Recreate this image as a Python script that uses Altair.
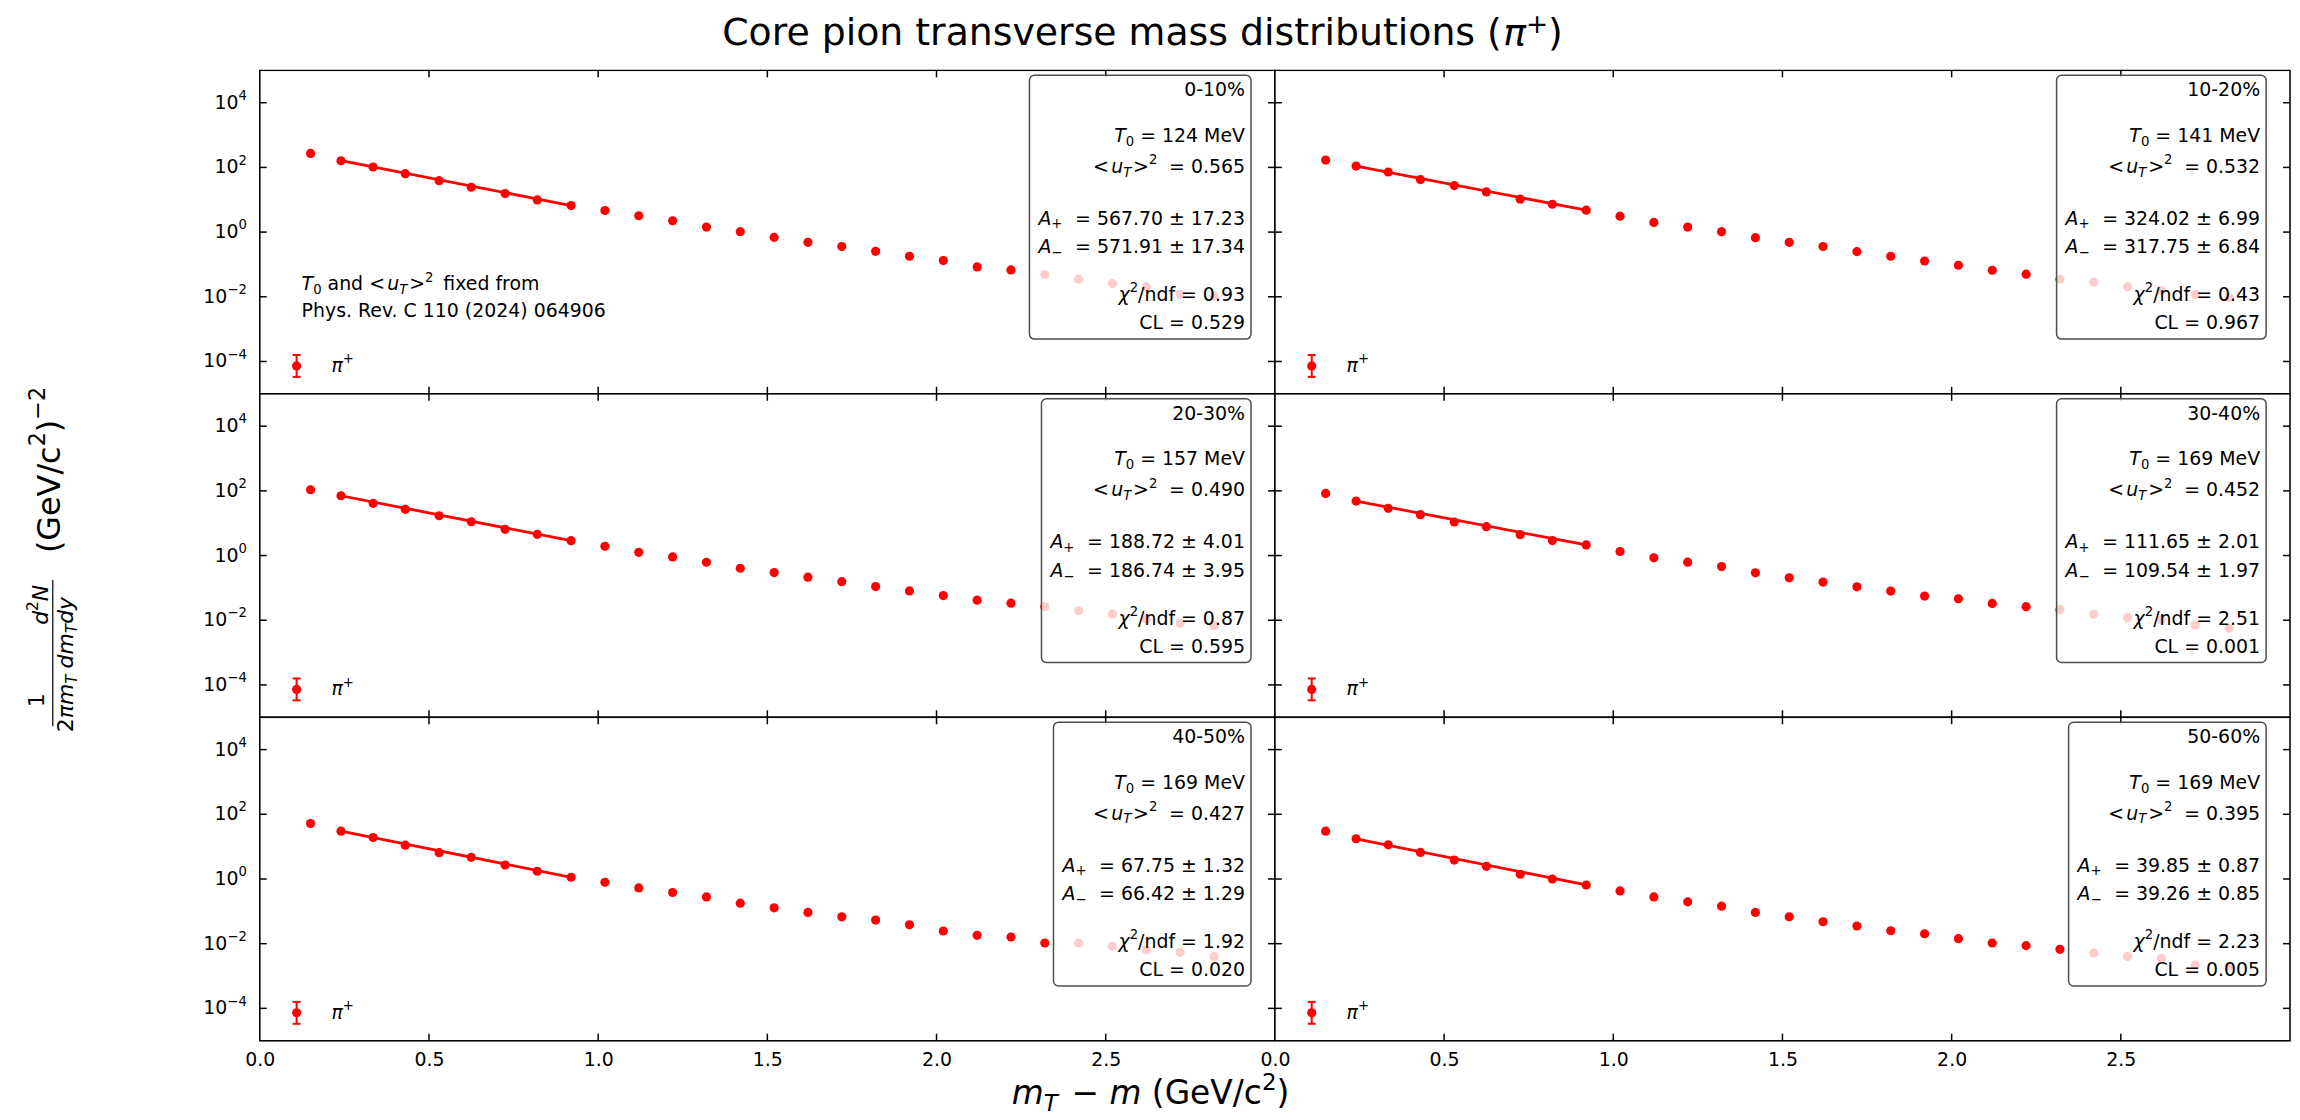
import altair as alt
import pandas as pd
import math

# ---------------- data ----------------
MT = [0.15, 0.24, 0.335, 0.43, 0.53, 0.625, 0.725, 0.82, 0.92, 1.02, 1.12, 1.22, 1.32, 1.42,
      1.52, 1.62, 1.72, 1.82, 1.92, 2.02, 2.12, 2.22, 2.32, 2.42, 2.52, 2.62, 2.72, 2.82]

Y_0_10 = [270, 161, 103, 64, 39, 24.3, 15.5, 9.9, 6.6, 4.66, 3.2, 2.24, 1.43, 1.03, 0.687, 0.482,
          0.356, 0.255, 0.179, 0.132, 0.0838, 0.0678, 0.0489, 0.0351, 0.0258, 0.0209, 0.0119, 0.0105]
Y_10_20 = [169, 110, 72, 41.9, 27.4, 17.5, 10.4, 7.27, 4.75, 3.1, 1.99, 1.43, 1.03, 0.673, 0.482,
           0.356, 0.249, 0.179, 0.128, 0.0945, 0.0663, 0.0499, 0.0351, 0.0283, 0.0203, 0.0157, 0.0119, 0.0093]
Y_20_30 = [108, 70.6, 41, 26.9, 17, 11.1, 6.48, 4.54, 2.89, 1.94, 1.26, 0.906, 0.621, 0.405, 0.297,
           0.214, 0.156, 0.110, 0.0807, 0.0578, 0.0417, 0.0337, 0.0259, 0.0195, 0.0154, 0.0110, 0.0081, 0.0069]
Y_30_40 = [83.2, 48.3, 28.8, 18.3, 10.9, 7.8, 4.43, 2.90, 2.13, 1.33, 0.85, 0.625, 0.457, 0.292, 0.205,
           0.151, 0.108, 0.0797, 0.0559, 0.0462, 0.0331, 0.0262, 0.0212, 0.0152, 0.0120, 0.0104, 0.0071, 0.0056]
Y_40_50 = [51.8, 30, 19.2, 11.1, 6.49, 4.66, 2.70, 1.73, 1.13, 0.791, 0.528, 0.382, 0.279, 0.179, 0.128,
           0.0925, 0.0677, 0.0536, 0.0385, 0.0246, 0.0181, 0.0161, 0.0105, 0.0105, 0.0083, 0.0065, 0.0054, 0.0040]
Y_50_60 = [30, 17.5, 11.4, 6.63, 3.85, 2.46, 1.40, 1.0, 0.653, 0.428, 0.279, 0.196, 0.144, 0.0925, 0.0678,
           0.0475, 0.0351, 0.0251, 0.0203, 0.0143, 0.0105, 0.0087, 0.0067, 0.0051, 0.0040, 0.0035, 0.0022, 0.0020]
Y_ALL = [Y_0_10, Y_10_20, Y_20_30, Y_30_40, Y_40_50, Y_50_60]

FIT_X = [0.24, 0.92]
FIT_Y = [[161, 6.6], [110, 4.75], [70.6, 2.89], [48.3, 2.13], [30, 1.13], [17.5, 0.653]]

CENT = ["0-10%", "10-20%", "20-30%", "30-40%", "40-50%", "50-60%"]
T0 = ["124", "141", "157", "169", "169", "169"]
UT2 = ["0.565", "0.532", "0.490", "0.452", "0.427", "0.395"]
A_PLUS = ["567.70 ± 17.23", "324.02 ± 6.99", "188.72 ± 4.01", "111.65 ± 2.01", "67.75 ± 1.32", "39.85 ± 0.87"]
A_MINUS = ["571.91 ± 17.34", "317.75 ± 6.84", "186.74 ± 3.95", "109.54 ± 1.97", "66.42 ± 1.29", "39.26 ± 0.85"]
CHI2 = ["0.93", "0.43", "0.87", "2.51", "1.92", "2.23"]
CL = ["0.529", "0.967", "0.595", "0.001", "0.020", "0.005"]

X_LABELS = [0.0, 0.5, 1.0, 1.5, 2.0, 2.5]
X_TICKS = [0.5, 1.0, 1.5, 2.0, 2.5]
Y_TICKS = [1e4, 1e2, 1, 1e-2, 1e-4]
Y_TICK_EXP = ["4", "2", "0", "−2", "−4"]

# ---------------- layout ----------------
W_PX, H_PX = 1020, 325
XMAX = 3.0
LOG_TOP, LOG_BOT = 5.0, -5.0
FS = 19


def xd(px):
    return px / W_PX * XMAX


def yd(py):
    return 10 ** (LOG_TOP - py / H_PX * (LOG_TOP - LOG_BOT))


def ypx(v):
    return (LOG_TOP - math.log10(v)) / (LOG_TOP - LOG_BOT) * H_PX


EM = {' ': .318, 'a': .613, 'b': .635, 'c': .550, 'd': .635, 'e': .615, 'f': .352, 'g': .635, 'h': .634,
      'i': .278, 'j': .278, 'k': .579, 'l': .278, 'm': .974, 'n': .634, 'o': .612, 'p': .635, 'q': .635,
      'r': .411, 's': .521, 't': .392, 'u': .634, 'v': .592, 'w': .818, 'x': .592, 'y': .592, 'z': .525,
      'A': .684, 'C': .698, 'G': .775, 'L': .557, 'M': .863, 'N': .748, 'P': .603, 'R': .695, 'T': .611,
      'V': .684, '.': .318, ',': .318, '-': .361, '(': .390, ')': .390, '%': .950, '=': .838, '+': .838,
      '<': .838, '>': .838, '±': .838, '/': .337, '−': .838, 'π': .602, 'χ': .592}
for _d in '0123456789':
    EM[_d] = .636


def tw(text, size):
    return sum(EM.get(c, 0.6) for c in text) * size


KIND = {'n': (1.0, 0.0, False), 'i': (1.0, 0.0, True),
        'sub': (0.7, 0.30, False), 'subi': (0.7, 0.30, True),
        'sup': (0.7, -0.36, False), 'supi': (0.7, -0.36, True),
        'supl': (0.7, -0.26, False)}


def rich(segs, x, y, size, align='left', rotate=False):
    items, total = [], 0.0
    for s in segs:
        text, kind = s[0], s[1]
        pad = (s[2] if len(s) > 2 else 0.0) * size
        scale, off, it = KIND[kind]
        fs = size * scale
        lead = (len(text) - len(text.lstrip(' '))) * EM[' '] * fs
        trail = (len(text) - len(text.rstrip(' '))) * EM[' '] * fs
        core = text.strip(' ')
        w = tw(core, fs)
        items.append((core, fs, off * size, it, lead, w, trail + pad))
        total += lead + w + trail + pad
    start = {'left': 0.0, 'right': -total, 'center': -total / 2}[align]
    rows, pos = [], start
    for core, fs, off, it, lead, w, after in items:
        pos += lead
        if rotate:
            px, py = x + off, y - pos
        else:
            px, py = x + pos, y + off
        rows.append(dict(x=xd(px), y=yd(py), t=core, s=fs, it=it))
        pos += w + after
    return rows, total


def text_layers(rows, X, Y, angle=None):
    out = []
    for it in (False, True):
        sub = [r for r in rows if r['it'] == it]
        if not sub:
            continue
        kw = dict(align='left', baseline='middle', font='DejaVu Sans', color='black')
        if it:
            kw['fontStyle'] = 'italic'
        if angle is not None:
            kw['angle'] = angle
        out.append(alt.Chart(pd.DataFrame(sub)).mark_text(**kw).encode(
            x=X, y=Y, text='t:N', size=alt.Size('s:Q', scale=None)))
    return out


LINE_Y = [20, 66, 97, 149, 178, 226, 254]
TEXT_RIGHT = 990
BOX_RIGHT = 996


def panel(i):
    col, row = i % 2, i // 2
    xs = alt.Scale(domain=[0, XMAX], nice=False, zero=False)
    ys = alt.Scale(type='log', domain=[10 ** LOG_BOT, 10 ** LOG_TOP], nice=False)
    if row == 2:
        xaxis = alt.Axis(values=X_LABELS, format='.1f', ticks=False, domain=False, grid=False,
                         labelFontSize=FS, labelPadding=10, labelColor='black', labelFlush=False,
                         labelFont='DejaVu Sans', title=None)
    else:
        xaxis = None
    X = alt.X('x:Q', scale=xs, axis=xaxis)
    Y = alt.Y('y:Q', scale=ys, axis=None)

    layers = []
    one = pd.DataFrame({'a': [0]})
    # fit line + data
    layers.append(alt.Chart(pd.DataFrame({'x': FIT_X, 'y': FIT_Y[i]})).mark_line(
        color='#ff0000', strokeWidth=2.8).encode(x=X, y=Y))
    layers.append(alt.Chart(pd.DataFrame({'x': MT, 'y': Y_ALL[i]})).mark_circle(
        size=85, color='#ff0000', opacity=1).encode(x=X, y=Y))

    # frame + inward ticks
    layers.append(alt.Chart(one).mark_rect(fillOpacity=0, stroke='black', strokeWidth=1.5).encode(
        x=alt.value(0), x2=alt.value(W_PX), y=alt.value(0), y2=alt.value(H_PX)))
    xt = pd.DataFrame({'x': X_TICKS})
    yt = pd.DataFrame({'y': Y_TICKS})
    tk = dict(color='black', strokeWidth=1.5)
    layers.append(alt.Chart(xt).mark_rule(**tk).encode(x=X, y=alt.value(H_PX), y2=alt.value(H_PX - 7)))
    layers.append(alt.Chart(xt).mark_rule(**tk).encode(x=X, y=alt.value(0), y2=alt.value(7)))
    layers.append(alt.Chart(yt).mark_rule(**tk).encode(y=Y, x=alt.value(0), x2=alt.value(7)))
    layers.append(alt.Chart(yt).mark_rule(**tk).encode(y=Y, x=alt.value(W_PX - 7), x2=alt.value(W_PX)))

    rows = []
    # y tick labels (left column only)
    if col == 0:
        for v, e in zip(Y_TICKS, Y_TICK_EXP):
            r, _ = rich([('10', 'n'), (e, 'sup')], -13, ypx(v), FS, align='right')
            rows += r

    # info box
    lines = [
        [(CENT[i], 'n')],
        [('T', 'i'), ('0', 'sub'), (' = ' + T0[i] + ' MeV', 'n')],
        [('<', 'n', 0.12), ('u', 'i'), ('T', 'subi', 0.1), ('>', 'n'), ('2', 'sup', 0.3),
         (' = ' + UT2[i], 'n')],
        [('A', 'i'), ('+', 'sub', 0.35), (' = ' + A_PLUS[i], 'n')],
        [('A', 'i'), ('−', 'sub', 0.35), (' = ' + A_MINUS[i], 'n')],
        [('χ', 'i'), ('2', 'sup'), ('/ndf = ' + CHI2[i], 'n')],
        [('CL = ' + CL[i], 'n')],
    ]
    widest = 0.0
    for segs, ly in zip(lines, LINE_Y):
        r, w = rich(segs, TEXT_RIGHT, ly, FS, align='right')
        rows += r
        widest = max(widest, w)
    box_left = TEXT_RIGHT - widest - 9
    box = pd.DataFrame({'x': [xd(box_left)], 'x2': [xd(BOX_RIGHT)], 'y': [yd(5)], 'y2': [yd(270)]})
    layers.append(alt.Chart(box).mark_rect(fill='white', fillOpacity=0.8, stroke='#4d4d4d', strokeWidth=1.5,
                                           cornerRadius=5).encode(x=X, x2='x2:Q', y=Y, y2='y2:Q'))

    # legend
    red = dict(color='#ff0000', strokeWidth=2)
    layers.append(alt.Chart(one).mark_rule(**red).encode(x=alt.value(37), y=alt.value(286), y2=alt.value(308)))
    layers.append(alt.Chart(one).mark_rule(**red).encode(x=alt.value(33), x2=alt.value(41), y=alt.value(286)))
    layers.append(alt.Chart(one).mark_rule(**red).encode(x=alt.value(33), x2=alt.value(41), y=alt.value(308)))
    layers.append(alt.Chart(one).mark_circle(size=85, color='#ff0000', opacity=1).encode(
        x=alt.value(37), y=alt.value(297)))
    r, _ = rich([('π', 'i'), ('+', 'sup')], 72, 297, FS)
    rows += r

    if i == 0:
        r, _ = rich([('T', 'i'), ('0', 'sub'), (' and ', 'n'), ('<', 'n', 0.12), ('u', 'i'), ('T', 'subi', 0.1),
                     ('>', 'n'), ('2', 'sup', 0.2), (' fixed from', 'n')], 42, 215, FS)
        rows += r
        r, _ = rich([('Phys. Rev. C 110 (2024) 064906', 'n')], 42, 242, FS)
        rows += r
        # figure title
        r, _ = rich([('Core pion transverse mass distributions (', 'n'), ('π', 'i'), ('+', 'supl'),
                     (')', 'n')], 887, -36, 38, align='center')
        rows += r
    if i == 4:
        # x title
        r, _ = rich([('m', 'i'), ('T', 'subi', 0.1), (' − ', 'n'), ('m', 'i'), (' (GeV/c', 'n'), ('2', 'sup'),
                     (')', 'n')], 895, 379, 33, align='center')
        rows += r

    layers += text_layers(rows, X, Y)

    if i == 2:
        # rotated y title (positions relative to the middle-left panel)
        yrows = []
        r, _ = rich([('(GeV/c', 'n'), ('2', 'sup'), (')', 'n'), ('−2', 'sup')], -211, 160, 32, rotate=True)
        yrows += r
        r, _ = rich([('1', 'n')], -224, 308, 22, align='center', rotate=True)
        yrows += r
        r, _ = rich([('2', 'n'), ('π', 'i'), ('m', 'i'), ('T', 'subi')], -195, 311, 22, align='center',
                    rotate=True)
        yrows += r
        r, _ = rich([('d', 'i'), ('2', 'sup'), ('N', 'i')], -220, 212, 22, align='center', rotate=True)
        yrows += r
        r, _ = rich([('d', 'i'), ('m', 'i'), ('T', 'subi'), ('dy', 'i')], -195, 240, 22, align='center',
                    rotate=True)
        yrows += r
        layers += text_layers(yrows, X, Y, angle=270)
        bar = pd.DataFrame({'x': [xd(-208)], 'y': [yd(187)], 'y2': [yd(334)]})
        layers.append(alt.Chart(bar).mark_rule(color='black', strokeWidth=1.2).encode(x=X, y=Y, y2='y2:Q'))

    return alt.layer(*layers).properties(width=W_PX, height=H_PX)


chart = alt.concat(*[panel(i) for i in range(6)], columns=2, spacing=0, bounds='flush').configure_view(
    strokeWidth=0).configure(font='DejaVu Sans').properties(
    padding={'left': 17, 'right': 0, 'top': 0, 'bottom': 0})

chart.save("out.html", embed_options={"renderer": "svg", "actions": False})
